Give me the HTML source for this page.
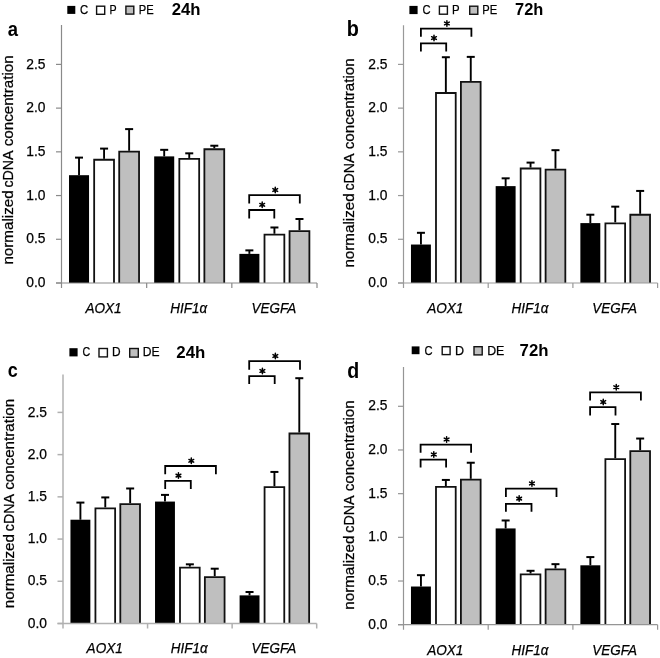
<!DOCTYPE html>
<html><head><meta charset="utf-8"><style>
html,body{margin:0;padding:0;background:#fff;}
svg{display:block;font-family:"Liberation Sans", sans-serif;filter:grayscale(1);}
text{fill:#000;stroke:#000;stroke-width:0.25px;}
text[font-weight=bold]{stroke:none;}
</style></head><body>
<svg width="660" height="658" viewBox="0 0 660 658">
<rect width="660" height="658" fill="#fff"/>
<line x1="79.03" y1="157.61" x2="79.03" y2="175.19" stroke="#000" stroke-width="1.9"/>
<line x1="75.03" y1="157.61" x2="83.03" y2="157.61" stroke="#000" stroke-width="2"/>
<rect x="69.01" y="175.19" width="20.04" height="107.81" fill="#000"/>
<line x1="104.08" y1="148.60" x2="104.08" y2="158.84" stroke="#000" stroke-width="1.9"/>
<line x1="100.08" y1="148.60" x2="108.08" y2="148.60" stroke="#000" stroke-width="2"/>
<rect x="94.16" y="159.74" width="19.84" height="123.26" fill="#ffffff"/>
<path d="M94.16 283.00V159.74H114.00V283.00" fill="none" stroke="#111" stroke-width="1.8"/>
<line x1="129.13" y1="129.11" x2="129.13" y2="150.79" stroke="#000" stroke-width="1.9"/>
<line x1="125.13" y1="129.11" x2="133.13" y2="129.11" stroke="#000" stroke-width="2"/>
<rect x="119.21" y="151.69" width="19.84" height="131.31" fill="#bfbfbf"/>
<path d="M119.21 283.00V151.69H139.05V283.00" fill="none" stroke="#111" stroke-width="1.8"/>
<line x1="164.20" y1="149.83" x2="164.20" y2="156.39" stroke="#000" stroke-width="1.9"/>
<line x1="160.20" y1="149.83" x2="168.20" y2="149.83" stroke="#000" stroke-width="2"/>
<rect x="154.18" y="156.39" width="20.04" height="126.61" fill="#000"/>
<line x1="189.25" y1="153.33" x2="189.25" y2="157.96" stroke="#000" stroke-width="1.9"/>
<line x1="185.25" y1="153.33" x2="193.25" y2="153.33" stroke="#000" stroke-width="2"/>
<rect x="179.33" y="158.86" width="19.84" height="124.14" fill="#ffffff"/>
<path d="M179.33 283.00V158.86H199.17V283.00" fill="none" stroke="#111" stroke-width="1.8"/>
<line x1="214.30" y1="145.72" x2="214.30" y2="148.34" stroke="#000" stroke-width="1.9"/>
<line x1="210.30" y1="145.72" x2="218.30" y2="145.72" stroke="#000" stroke-width="2"/>
<rect x="204.38" y="149.24" width="19.84" height="133.76" fill="#bfbfbf"/>
<path d="M204.38 283.00V149.24H224.22V283.00" fill="none" stroke="#111" stroke-width="1.8"/>
<line x1="249.37" y1="250.38" x2="249.37" y2="253.88" stroke="#000" stroke-width="1.9"/>
<line x1="245.37" y1="250.38" x2="253.37" y2="250.38" stroke="#000" stroke-width="2"/>
<rect x="239.35" y="253.88" width="20.04" height="29.12" fill="#000"/>
<line x1="274.42" y1="227.48" x2="274.42" y2="233.77" stroke="#000" stroke-width="1.9"/>
<line x1="270.42" y1="227.48" x2="278.42" y2="227.48" stroke="#000" stroke-width="2"/>
<rect x="264.50" y="234.67" width="19.84" height="48.33" fill="#ffffff"/>
<path d="M264.50 283.00V234.67H284.34V283.00" fill="none" stroke="#111" stroke-width="1.8"/>
<line x1="299.47" y1="218.99" x2="299.47" y2="230.19" stroke="#000" stroke-width="1.9"/>
<line x1="295.47" y1="218.99" x2="303.47" y2="218.99" stroke="#000" stroke-width="2"/>
<rect x="289.55" y="231.09" width="19.84" height="51.91" fill="#bfbfbf"/>
<path d="M289.55 283.00V231.09H309.39V283.00" fill="none" stroke="#111" stroke-width="1.8"/>
<line x1="61.5" y1="25.0" x2="61.5" y2="288.0" stroke="#8a8a8a" stroke-width="1.2"/>
<line x1="56.0" y1="283.0" x2="317.0" y2="283.0" stroke="#8a8a8a" stroke-width="1.2"/>
<line x1="56.0" y1="283.00" x2="61.5" y2="283.00" stroke="#8a8a8a" stroke-width="1.2"/>
<text x="45.50" y="287.10" text-anchor="end" font-size="14" textLength="19.2" lengthAdjust="spacingAndGlyphs">0.0</text>
<line x1="56.0" y1="239.28" x2="61.5" y2="239.28" stroke="#8a8a8a" stroke-width="1.2"/>
<text x="45.50" y="243.38" text-anchor="end" font-size="14" textLength="19.2" lengthAdjust="spacingAndGlyphs">0.5</text>
<line x1="56.0" y1="195.56" x2="61.5" y2="195.56" stroke="#8a8a8a" stroke-width="1.2"/>
<text x="45.50" y="199.66" text-anchor="end" font-size="14" textLength="19.2" lengthAdjust="spacingAndGlyphs">1.0</text>
<line x1="56.0" y1="151.84" x2="61.5" y2="151.84" stroke="#8a8a8a" stroke-width="1.2"/>
<text x="45.50" y="155.94" text-anchor="end" font-size="14" textLength="19.2" lengthAdjust="spacingAndGlyphs">1.5</text>
<line x1="56.0" y1="108.12" x2="61.5" y2="108.12" stroke="#8a8a8a" stroke-width="1.2"/>
<text x="45.50" y="112.22" text-anchor="end" font-size="14" textLength="19.2" lengthAdjust="spacingAndGlyphs">2.0</text>
<line x1="56.0" y1="64.40" x2="61.5" y2="64.40" stroke="#8a8a8a" stroke-width="1.2"/>
<text x="45.50" y="68.50" text-anchor="end" font-size="14" textLength="19.2" lengthAdjust="spacingAndGlyphs">2.5</text>
<line x1="146.67" y1="283.0" x2="146.67" y2="288.0" stroke="#8a8a8a" stroke-width="1.2"/>
<line x1="231.83" y1="283.0" x2="231.83" y2="288.0" stroke="#8a8a8a" stroke-width="1.2"/>
<line x1="317.00" y1="283.0" x2="317.00" y2="288.0" stroke="#8a8a8a" stroke-width="1.2"/>
<text x="103.48" y="312.80" text-anchor="middle" font-size="14" font-style="italic" textLength="36.2" lengthAdjust="spacingAndGlyphs">AOX1</text>
<text x="188.65" y="312.80" text-anchor="middle" font-size="14" font-style="italic" textLength="36.8" lengthAdjust="spacingAndGlyphs">HIF1α</text>
<text x="273.82" y="312.80" text-anchor="middle" font-size="14" font-style="italic" textLength="44.6" lengthAdjust="spacingAndGlyphs">VEGFA</text>
<path d="M249.20 203.50V195.20H299.80V203.50" stroke="#000" stroke-width="1.8" fill="none"/>
<path d="M249.20 218.40V210.00H274.30V218.40" stroke="#000" stroke-width="1.8" fill="none"/>
<path d="M275.25 187.25L275.25 192.75M272.87 188.62L277.63 191.38M277.63 188.62L272.87 191.38" stroke="#000" stroke-width="1.5" stroke-linecap="round" fill="none"/>
<path d="M262.20 202.05L262.20 207.55M259.82 203.43L264.58 206.18M264.58 203.43L259.82 206.18" stroke="#000" stroke-width="1.5" stroke-linecap="round" fill="none"/>
<text transform="translate(13.30,264.60) rotate(-90)" x="0" y="0" font-size="14.8" textLength="74.20" lengthAdjust="spacingAndGlyphs">normalized</text>
<text transform="translate(13.30,187.60) rotate(-90)" x="0" y="0" font-size="14.8" textLength="37.10" lengthAdjust="spacingAndGlyphs">cDNA</text>
<text transform="translate(13.30,146.20) rotate(-90)" x="0" y="0" font-size="14.8" textLength="90.90" lengthAdjust="spacingAndGlyphs">concentration</text>
<text transform="translate(7.70,35.90) scale(0.88,1)" x="0" y="0" font-size="21" font-weight="bold">a</text>
<line x1="420.94" y1="232.81" x2="420.94" y2="244.53" stroke="#000" stroke-width="1.9"/>
<line x1="416.94" y1="232.81" x2="424.94" y2="232.81" stroke="#000" stroke-width="2"/>
<rect x="410.97" y="244.53" width="19.93" height="38.47" fill="#000"/>
<line x1="445.85" y1="57.23" x2="445.85" y2="92.12" stroke="#000" stroke-width="1.9"/>
<line x1="441.85" y1="57.23" x2="449.85" y2="57.23" stroke="#000" stroke-width="2"/>
<rect x="435.99" y="93.02" width="19.73" height="189.98" fill="#ffffff"/>
<path d="M435.99 283.00V93.02H455.71V283.00" fill="none" stroke="#111" stroke-width="1.8"/>
<line x1="470.76" y1="56.88" x2="470.76" y2="80.93" stroke="#000" stroke-width="1.9"/>
<line x1="466.76" y1="56.88" x2="474.76" y2="56.88" stroke="#000" stroke-width="2"/>
<rect x="460.90" y="81.83" width="19.73" height="201.17" fill="#bfbfbf"/>
<path d="M460.90 283.00V81.83H480.63V283.00" fill="none" stroke="#111" stroke-width="1.8"/>
<line x1="505.64" y1="178.33" x2="505.64" y2="186.12" stroke="#000" stroke-width="1.9"/>
<line x1="501.64" y1="178.33" x2="509.64" y2="178.33" stroke="#000" stroke-width="2"/>
<rect x="495.67" y="186.12" width="19.93" height="96.88" fill="#000"/>
<line x1="530.55" y1="162.60" x2="530.55" y2="167.58" stroke="#000" stroke-width="1.9"/>
<line x1="526.55" y1="162.60" x2="534.55" y2="162.60" stroke="#000" stroke-width="2"/>
<rect x="520.69" y="168.48" width="19.73" height="114.52" fill="#ffffff"/>
<path d="M520.69 283.00V168.48H540.41V283.00" fill="none" stroke="#111" stroke-width="1.8"/>
<line x1="555.46" y1="150.18" x2="555.46" y2="168.72" stroke="#000" stroke-width="1.9"/>
<line x1="551.46" y1="150.18" x2="559.46" y2="150.18" stroke="#000" stroke-width="2"/>
<rect x="545.60" y="169.62" width="19.73" height="113.38" fill="#bfbfbf"/>
<path d="M545.60 283.00V169.62H565.33V283.00" fill="none" stroke="#111" stroke-width="1.8"/>
<line x1="590.34" y1="214.71" x2="590.34" y2="223.10" stroke="#000" stroke-width="1.9"/>
<line x1="586.34" y1="214.71" x2="594.34" y2="214.71" stroke="#000" stroke-width="2"/>
<rect x="580.37" y="223.10" width="19.93" height="59.90" fill="#000"/>
<line x1="615.25" y1="206.66" x2="615.25" y2="222.40" stroke="#000" stroke-width="1.9"/>
<line x1="611.25" y1="206.66" x2="619.25" y2="206.66" stroke="#000" stroke-width="2"/>
<rect x="605.39" y="223.30" width="19.73" height="59.70" fill="#ffffff"/>
<path d="M605.39 283.00V223.30H625.11V283.00" fill="none" stroke="#111" stroke-width="1.8"/>
<line x1="640.16" y1="190.93" x2="640.16" y2="213.83" stroke="#000" stroke-width="1.9"/>
<line x1="636.16" y1="190.93" x2="644.16" y2="190.93" stroke="#000" stroke-width="2"/>
<rect x="630.30" y="214.73" width="19.73" height="68.27" fill="#bfbfbf"/>
<path d="M630.30 283.00V214.73H650.03V283.00" fill="none" stroke="#111" stroke-width="1.8"/>
<line x1="403.5" y1="25.3" x2="403.5" y2="288.0" stroke="#999999" stroke-width="1.2"/>
<line x1="398.0" y1="283.0" x2="657.6" y2="283.0" stroke="#999999" stroke-width="1.2"/>
<line x1="398.0" y1="283.00" x2="403.5" y2="283.00" stroke="#999999" stroke-width="1.2"/>
<text x="387.50" y="287.10" text-anchor="end" font-size="14" textLength="19.2" lengthAdjust="spacingAndGlyphs">0.0</text>
<line x1="398.0" y1="239.28" x2="403.5" y2="239.28" stroke="#999999" stroke-width="1.2"/>
<text x="387.50" y="243.38" text-anchor="end" font-size="14" textLength="19.2" lengthAdjust="spacingAndGlyphs">0.5</text>
<line x1="398.0" y1="195.56" x2="403.5" y2="195.56" stroke="#999999" stroke-width="1.2"/>
<text x="387.50" y="199.66" text-anchor="end" font-size="14" textLength="19.2" lengthAdjust="spacingAndGlyphs">1.0</text>
<line x1="398.0" y1="151.84" x2="403.5" y2="151.84" stroke="#999999" stroke-width="1.2"/>
<text x="387.50" y="155.94" text-anchor="end" font-size="14" textLength="19.2" lengthAdjust="spacingAndGlyphs">1.5</text>
<line x1="398.0" y1="108.12" x2="403.5" y2="108.12" stroke="#999999" stroke-width="1.2"/>
<text x="387.50" y="112.22" text-anchor="end" font-size="14" textLength="19.2" lengthAdjust="spacingAndGlyphs">2.0</text>
<line x1="398.0" y1="64.40" x2="403.5" y2="64.40" stroke="#999999" stroke-width="1.2"/>
<text x="387.50" y="68.50" text-anchor="end" font-size="14" textLength="19.2" lengthAdjust="spacingAndGlyphs">2.5</text>
<line x1="488.20" y1="283.0" x2="488.20" y2="288.0" stroke="#999999" stroke-width="1.2"/>
<line x1="572.90" y1="283.0" x2="572.90" y2="288.0" stroke="#999999" stroke-width="1.2"/>
<line x1="657.60" y1="283.0" x2="657.60" y2="288.0" stroke="#999999" stroke-width="1.2"/>
<text x="445.25" y="312.80" text-anchor="middle" font-size="14" font-style="italic" textLength="36.2" lengthAdjust="spacingAndGlyphs">AOX1</text>
<text x="529.95" y="312.80" text-anchor="middle" font-size="14" font-style="italic" textLength="36.8" lengthAdjust="spacingAndGlyphs">HIF1α</text>
<text x="614.65" y="312.80" text-anchor="middle" font-size="14" font-style="italic" textLength="44.6" lengthAdjust="spacingAndGlyphs">VEGFA</text>
<path d="M420.90 36.70V28.60H471.40V36.70" stroke="#000" stroke-width="1.8" fill="none"/>
<path d="M420.90 51.50V43.30H446.20V51.50" stroke="#000" stroke-width="1.8" fill="none"/>
<path d="M446.90 20.65L446.90 26.15M444.52 22.03L449.28 24.78M449.28 22.03L444.52 24.78" stroke="#000" stroke-width="1.5" stroke-linecap="round" fill="none"/>
<path d="M434.00 35.35L434.00 40.85M431.62 36.72L436.38 39.47M436.38 36.72L431.62 39.47" stroke="#000" stroke-width="1.5" stroke-linecap="round" fill="none"/>
<text transform="translate(354.10,267.60) rotate(-90)" x="0" y="0" font-size="14.8" textLength="74.20" lengthAdjust="spacingAndGlyphs">normalized</text>
<text transform="translate(354.10,190.60) rotate(-90)" x="0" y="0" font-size="14.8" textLength="37.10" lengthAdjust="spacingAndGlyphs">cDNA</text>
<text transform="translate(354.10,149.20) rotate(-90)" x="0" y="0" font-size="14.8" textLength="90.90" lengthAdjust="spacingAndGlyphs">concentration</text>
<text transform="translate(346.80,35.70) scale(0.9,1)" x="0" y="0" font-size="22" font-weight="bold">b</text>
<line x1="80.41" y1="502.58" x2="80.41" y2="519.72" stroke="#000" stroke-width="1.9"/>
<line x1="76.41" y1="502.58" x2="84.41" y2="502.58" stroke="#000" stroke-width="2"/>
<rect x="70.46" y="519.72" width="19.90" height="103.78" fill="#000"/>
<line x1="105.28" y1="497.43" x2="105.28" y2="507.39" stroke="#000" stroke-width="1.9"/>
<line x1="101.28" y1="497.43" x2="109.28" y2="497.43" stroke="#000" stroke-width="2"/>
<rect x="95.43" y="508.29" width="19.70" height="115.21" fill="#ffffff"/>
<path d="M95.43 623.50V508.29H115.13V623.50" fill="none" stroke="#111" stroke-width="1.8"/>
<line x1="130.16" y1="488.48" x2="130.16" y2="503.26" stroke="#000" stroke-width="1.9"/>
<line x1="126.16" y1="488.48" x2="134.16" y2="488.48" stroke="#000" stroke-width="2"/>
<rect x="120.31" y="504.16" width="19.70" height="119.34" fill="#bfbfbf"/>
<path d="M120.31 623.50V504.16H140.00V623.50" fill="none" stroke="#111" stroke-width="1.8"/>
<line x1="164.98" y1="494.90" x2="164.98" y2="501.57" stroke="#000" stroke-width="1.9"/>
<line x1="160.98" y1="494.90" x2="168.98" y2="494.90" stroke="#000" stroke-width="2"/>
<rect x="155.03" y="501.57" width="19.90" height="121.93" fill="#000"/>
<line x1="189.85" y1="564.31" x2="189.85" y2="566.67" stroke="#000" stroke-width="1.9"/>
<line x1="185.85" y1="564.31" x2="193.85" y2="564.31" stroke="#000" stroke-width="2"/>
<rect x="180.00" y="567.57" width="19.70" height="55.93" fill="#ffffff"/>
<path d="M180.00 623.50V567.57H199.70V623.50" fill="none" stroke="#111" stroke-width="1.8"/>
<line x1="214.72" y1="568.70" x2="214.72" y2="576.21" stroke="#000" stroke-width="1.9"/>
<line x1="210.72" y1="568.70" x2="218.72" y2="568.70" stroke="#000" stroke-width="2"/>
<rect x="204.87" y="577.11" width="19.70" height="46.39" fill="#bfbfbf"/>
<path d="M204.87 623.50V577.11H224.57V623.50" fill="none" stroke="#111" stroke-width="1.8"/>
<line x1="249.54" y1="592.00" x2="249.54" y2="595.38" stroke="#000" stroke-width="1.9"/>
<line x1="245.54" y1="592.00" x2="253.54" y2="592.00" stroke="#000" stroke-width="2"/>
<rect x="239.60" y="595.38" width="19.90" height="28.12" fill="#000"/>
<line x1="274.42" y1="471.93" x2="274.42" y2="486.20" stroke="#000" stroke-width="1.9"/>
<line x1="270.42" y1="471.93" x2="278.42" y2="471.93" stroke="#000" stroke-width="2"/>
<rect x="264.57" y="487.10" width="19.70" height="136.40" fill="#ffffff"/>
<path d="M264.57 623.50V487.10H284.27V623.50" fill="none" stroke="#111" stroke-width="1.8"/>
<line x1="299.29" y1="378.20" x2="299.29" y2="432.58" stroke="#000" stroke-width="1.9"/>
<line x1="295.29" y1="378.20" x2="303.29" y2="378.20" stroke="#000" stroke-width="2"/>
<rect x="289.44" y="433.48" width="19.70" height="190.02" fill="#bfbfbf"/>
<path d="M289.44 623.50V433.48H309.14V623.50" fill="none" stroke="#111" stroke-width="1.8"/>
<line x1="63.0" y1="374.6" x2="63.0" y2="628.5" stroke="#b0b0b0" stroke-width="1.5"/>
<line x1="57.5" y1="623.5" x2="316.7" y2="623.5" stroke="#b0b0b0" stroke-width="1.5"/>
<line x1="57.5" y1="623.50" x2="63.0" y2="623.50" stroke="#b0b0b0" stroke-width="1.5"/>
<text x="47.00" y="627.60" text-anchor="end" font-size="14" textLength="19.2" lengthAdjust="spacingAndGlyphs">0.0</text>
<line x1="57.5" y1="581.28" x2="63.0" y2="581.28" stroke="#b0b0b0" stroke-width="1.5"/>
<text x="47.00" y="585.38" text-anchor="end" font-size="14" textLength="19.2" lengthAdjust="spacingAndGlyphs">0.5</text>
<line x1="57.5" y1="539.06" x2="63.0" y2="539.06" stroke="#b0b0b0" stroke-width="1.5"/>
<text x="47.00" y="543.16" text-anchor="end" font-size="14" textLength="19.2" lengthAdjust="spacingAndGlyphs">1.0</text>
<line x1="57.5" y1="496.84" x2="63.0" y2="496.84" stroke="#b0b0b0" stroke-width="1.5"/>
<text x="47.00" y="500.94" text-anchor="end" font-size="14" textLength="19.2" lengthAdjust="spacingAndGlyphs">1.5</text>
<line x1="57.5" y1="454.62" x2="63.0" y2="454.62" stroke="#b0b0b0" stroke-width="1.5"/>
<text x="47.00" y="458.72" text-anchor="end" font-size="14" textLength="19.2" lengthAdjust="spacingAndGlyphs">2.0</text>
<line x1="57.5" y1="412.40" x2="63.0" y2="412.40" stroke="#b0b0b0" stroke-width="1.5"/>
<text x="47.00" y="416.50" text-anchor="end" font-size="14" textLength="19.2" lengthAdjust="spacingAndGlyphs">2.5</text>
<line x1="147.57" y1="623.5" x2="147.57" y2="628.5" stroke="#b0b0b0" stroke-width="1.5"/>
<line x1="232.13" y1="623.5" x2="232.13" y2="628.5" stroke="#b0b0b0" stroke-width="1.5"/>
<line x1="316.70" y1="623.5" x2="316.70" y2="628.5" stroke="#b0b0b0" stroke-width="1.5"/>
<text x="104.68" y="653.30" text-anchor="middle" font-size="14" font-style="italic" textLength="36.2" lengthAdjust="spacingAndGlyphs">AOX1</text>
<text x="189.25" y="653.30" text-anchor="middle" font-size="14" font-style="italic" textLength="36.8" lengthAdjust="spacingAndGlyphs">HIF1α</text>
<text x="273.82" y="653.30" text-anchor="middle" font-size="14" font-style="italic" textLength="44.6" lengthAdjust="spacingAndGlyphs">VEGFA</text>
<path d="M165.20 474.30V466.00H215.90V474.30" stroke="#000" stroke-width="1.8" fill="none"/>
<path d="M165.20 489.00V480.80H190.80V489.00" stroke="#000" stroke-width="1.8" fill="none"/>
<path d="M191.30 458.05L191.30 463.55M188.92 459.43L193.68 462.18M193.68 459.43L188.92 462.18" stroke="#000" stroke-width="1.5" stroke-linecap="round" fill="none"/>
<path d="M178.45 472.85L178.45 478.35M176.07 474.23L180.83 476.98M180.83 474.23L176.07 476.98" stroke="#000" stroke-width="1.5" stroke-linecap="round" fill="none"/>
<path d="M249.20 369.70V361.20H300.00V369.70" stroke="#000" stroke-width="1.8" fill="none"/>
<path d="M249.20 384.00V376.10H274.70V384.00" stroke="#000" stroke-width="1.8" fill="none"/>
<path d="M275.35 353.25L275.35 358.75M272.97 354.62L277.73 357.38M277.73 354.62L272.97 357.38" stroke="#000" stroke-width="1.5" stroke-linecap="round" fill="none"/>
<path d="M262.40 368.15L262.40 373.65M260.02 369.53L264.78 372.28M264.78 369.53L260.02 372.28" stroke="#000" stroke-width="1.5" stroke-linecap="round" fill="none"/>
<text transform="translate(13.70,608.20) rotate(-90)" x="0" y="0" font-size="14.8" textLength="74.20" lengthAdjust="spacingAndGlyphs">normalized</text>
<text transform="translate(13.70,531.20) rotate(-90)" x="0" y="0" font-size="14.8" textLength="37.10" lengthAdjust="spacingAndGlyphs">cDNA</text>
<text transform="translate(13.70,489.80) rotate(-90)" x="0" y="0" font-size="14.8" textLength="90.90" lengthAdjust="spacingAndGlyphs">concentration</text>
<text transform="translate(7.70,376.90) scale(0.9,1)" x="0" y="0" font-size="20" font-weight="bold">c</text>
<line x1="420.94" y1="575.17" x2="420.94" y2="586.52" stroke="#000" stroke-width="1.9"/>
<line x1="416.94" y1="575.17" x2="424.94" y2="575.17" stroke="#000" stroke-width="2"/>
<rect x="410.97" y="586.52" width="19.93" height="38.18" fill="#000"/>
<line x1="445.85" y1="479.94" x2="445.85" y2="486.06" stroke="#000" stroke-width="1.9"/>
<line x1="441.85" y1="479.94" x2="449.85" y2="479.94" stroke="#000" stroke-width="2"/>
<rect x="435.99" y="486.96" width="19.73" height="137.74" fill="#ffffff"/>
<path d="M435.99 624.70V486.96H455.71V624.70" fill="none" stroke="#111" stroke-width="1.8"/>
<line x1="470.76" y1="462.73" x2="470.76" y2="478.81" stroke="#000" stroke-width="1.9"/>
<line x1="466.76" y1="462.73" x2="474.76" y2="462.73" stroke="#000" stroke-width="2"/>
<rect x="460.90" y="479.71" width="19.73" height="144.99" fill="#bfbfbf"/>
<path d="M460.90 624.70V479.71H480.63V624.70" fill="none" stroke="#111" stroke-width="1.8"/>
<line x1="505.64" y1="520.48" x2="505.64" y2="528.43" stroke="#000" stroke-width="1.9"/>
<line x1="501.64" y1="520.48" x2="509.64" y2="520.48" stroke="#000" stroke-width="2"/>
<rect x="495.67" y="528.43" width="19.93" height="96.27" fill="#000"/>
<line x1="530.55" y1="570.80" x2="530.55" y2="573.51" stroke="#000" stroke-width="1.9"/>
<line x1="526.55" y1="570.80" x2="534.55" y2="570.80" stroke="#000" stroke-width="2"/>
<rect x="520.69" y="574.41" width="19.73" height="50.29" fill="#ffffff"/>
<path d="M520.69 624.70V574.41H540.41V624.70" fill="none" stroke="#111" stroke-width="1.8"/>
<line x1="555.46" y1="564.16" x2="555.46" y2="568.53" stroke="#000" stroke-width="1.9"/>
<line x1="551.46" y1="564.16" x2="559.46" y2="564.16" stroke="#000" stroke-width="2"/>
<rect x="545.60" y="569.43" width="19.73" height="55.27" fill="#bfbfbf"/>
<path d="M545.60 624.70V569.43H565.33V624.70" fill="none" stroke="#111" stroke-width="1.8"/>
<line x1="590.34" y1="557.08" x2="590.34" y2="565.30" stroke="#000" stroke-width="1.9"/>
<line x1="586.34" y1="557.08" x2="594.34" y2="557.08" stroke="#000" stroke-width="2"/>
<rect x="580.37" y="565.30" width="19.93" height="59.40" fill="#000"/>
<line x1="615.25" y1="424.03" x2="615.25" y2="458.28" stroke="#000" stroke-width="1.9"/>
<line x1="611.25" y1="424.03" x2="619.25" y2="424.03" stroke="#000" stroke-width="2"/>
<rect x="605.39" y="459.18" width="19.73" height="165.52" fill="#ffffff"/>
<path d="M605.39 624.70V459.18H625.11V624.70" fill="none" stroke="#111" stroke-width="1.8"/>
<line x1="640.16" y1="438.54" x2="640.16" y2="450.24" stroke="#000" stroke-width="1.9"/>
<line x1="636.16" y1="438.54" x2="644.16" y2="438.54" stroke="#000" stroke-width="2"/>
<rect x="630.30" y="451.14" width="19.73" height="173.56" fill="#bfbfbf"/>
<path d="M630.30 624.70V451.14H650.03V624.70" fill="none" stroke="#111" stroke-width="1.8"/>
<line x1="403.5" y1="367.1" x2="403.5" y2="629.7" stroke="#959595" stroke-width="1.2"/>
<line x1="398.0" y1="624.7" x2="657.6" y2="624.7" stroke="#959595" stroke-width="1.2"/>
<line x1="398.0" y1="624.70" x2="403.5" y2="624.70" stroke="#959595" stroke-width="1.2"/>
<text x="387.50" y="628.80" text-anchor="end" font-size="14" textLength="19.2" lengthAdjust="spacingAndGlyphs">0.0</text>
<line x1="398.0" y1="581.02" x2="403.5" y2="581.02" stroke="#959595" stroke-width="1.2"/>
<text x="387.50" y="585.12" text-anchor="end" font-size="14" textLength="19.2" lengthAdjust="spacingAndGlyphs">0.5</text>
<line x1="398.0" y1="537.34" x2="403.5" y2="537.34" stroke="#959595" stroke-width="1.2"/>
<text x="387.50" y="541.44" text-anchor="end" font-size="14" textLength="19.2" lengthAdjust="spacingAndGlyphs">1.0</text>
<line x1="398.0" y1="493.66" x2="403.5" y2="493.66" stroke="#959595" stroke-width="1.2"/>
<text x="387.50" y="497.76" text-anchor="end" font-size="14" textLength="19.2" lengthAdjust="spacingAndGlyphs">1.5</text>
<line x1="398.0" y1="449.98" x2="403.5" y2="449.98" stroke="#959595" stroke-width="1.2"/>
<text x="387.50" y="454.08" text-anchor="end" font-size="14" textLength="19.2" lengthAdjust="spacingAndGlyphs">2.0</text>
<line x1="398.0" y1="406.30" x2="403.5" y2="406.30" stroke="#959595" stroke-width="1.2"/>
<text x="387.50" y="410.40" text-anchor="end" font-size="14" textLength="19.2" lengthAdjust="spacingAndGlyphs">2.5</text>
<line x1="488.20" y1="624.7" x2="488.20" y2="629.7" stroke="#959595" stroke-width="1.2"/>
<line x1="572.90" y1="624.7" x2="572.90" y2="629.7" stroke="#959595" stroke-width="1.2"/>
<line x1="657.60" y1="624.7" x2="657.60" y2="629.7" stroke="#959595" stroke-width="1.2"/>
<text x="445.25" y="654.50" text-anchor="middle" font-size="14" font-style="italic" textLength="36.2" lengthAdjust="spacingAndGlyphs">AOX1</text>
<text x="529.95" y="654.50" text-anchor="middle" font-size="14" font-style="italic" textLength="36.8" lengthAdjust="spacingAndGlyphs">HIF1α</text>
<text x="614.65" y="654.50" text-anchor="middle" font-size="14" font-style="italic" textLength="44.6" lengthAdjust="spacingAndGlyphs">VEGFA</text>
<path d="M420.60 452.80V444.60H471.10V452.80" stroke="#000" stroke-width="1.8" fill="none"/>
<path d="M420.60 467.60V459.70H446.10V467.60" stroke="#000" stroke-width="1.8" fill="none"/>
<path d="M446.60 436.65L446.60 442.15M444.22 438.03L448.98 440.78M448.98 438.03L444.22 440.78" stroke="#000" stroke-width="1.5" stroke-linecap="round" fill="none"/>
<path d="M433.80 451.75L433.80 457.25M431.42 453.12L436.18 455.88M436.18 453.12L431.42 455.88" stroke="#000" stroke-width="1.5" stroke-linecap="round" fill="none"/>
<path d="M505.90 496.90V488.70H556.50V496.90" stroke="#000" stroke-width="1.8" fill="none"/>
<path d="M505.90 511.70V503.80H531.50V511.70" stroke="#000" stroke-width="1.8" fill="none"/>
<path d="M531.95 480.75L531.95 486.25M529.57 482.12L534.33 484.88M534.33 482.12L529.57 484.88" stroke="#000" stroke-width="1.5" stroke-linecap="round" fill="none"/>
<path d="M519.15 495.85L519.15 501.35M516.77 497.23L521.53 499.98M521.53 497.23L516.77 499.98" stroke="#000" stroke-width="1.5" stroke-linecap="round" fill="none"/>
<path d="M590.10 400.60V392.40H640.90V400.60" stroke="#000" stroke-width="1.8" fill="none"/>
<path d="M590.10 415.40V407.20H615.50V415.40" stroke="#000" stroke-width="1.8" fill="none"/>
<path d="M616.25 384.45L616.25 389.95M613.87 385.82L618.63 388.57M618.63 385.82L613.87 388.57" stroke="#000" stroke-width="1.5" stroke-linecap="round" fill="none"/>
<path d="M603.25 399.25L603.25 404.75M600.87 400.62L605.63 403.38M605.63 400.62L600.87 403.38" stroke="#000" stroke-width="1.5" stroke-linecap="round" fill="none"/>
<text transform="translate(354.00,609.70) rotate(-90)" x="0" y="0" font-size="14.8" textLength="74.20" lengthAdjust="spacingAndGlyphs">normalized</text>
<text transform="translate(354.00,532.70) rotate(-90)" x="0" y="0" font-size="14.8" textLength="37.10" lengthAdjust="spacingAndGlyphs">cDNA</text>
<text transform="translate(354.00,491.30) rotate(-90)" x="0" y="0" font-size="14.8" textLength="90.90" lengthAdjust="spacingAndGlyphs">concentration</text>
<text transform="translate(347.30,377.80) scale(0.89,1)" x="0" y="0" font-size="22" font-weight="bold">d</text>
<rect x="67.30" y="5.90" width="8.00" height="8.00" fill="#000"/>
<rect x="96.60" y="6.20" width="8.10" height="8.10" fill="#fff" stroke="#111" stroke-width="1.4"/>
<rect x="125.90" y="6.20" width="7.90" height="7.90" fill="#bfbfbf" stroke="#111" stroke-width="1.4"/>
<text x="79.98" y="14.40" font-size="13" textLength="8.16" lengthAdjust="spacingAndGlyphs">C</text>
<text x="109.60" y="14.40" font-size="13" textLength="7.12" lengthAdjust="spacingAndGlyphs">P</text>
<text x="138.75" y="14.40" font-size="13" textLength="14.89" lengthAdjust="spacingAndGlyphs">PE</text>
<text x="171.70" y="14.80" font-size="16" font-weight="bold" textLength="28.81" lengthAdjust="spacingAndGlyphs">24h</text>
<rect x="409.40" y="5.90" width="8.20" height="8.20" fill="#000"/>
<rect x="439.40" y="6.20" width="8.00" height="8.00" fill="#fff" stroke="#111" stroke-width="1.4"/>
<rect x="469.70" y="6.20" width="8.10" height="8.10" fill="#bfbfbf" stroke="#111" stroke-width="1.4"/>
<text x="422.49" y="14.40" font-size="13" textLength="8.05" lengthAdjust="spacingAndGlyphs">C</text>
<text x="452.04" y="14.40" font-size="13" textLength="7.62" lengthAdjust="spacingAndGlyphs">P</text>
<text x="482.35" y="14.40" font-size="13" textLength="14.89" lengthAdjust="spacingAndGlyphs">PE</text>
<text x="515.00" y="14.80" font-size="16" font-weight="bold" textLength="28.29" lengthAdjust="spacingAndGlyphs">72h</text>
<rect x="69.40" y="348.20" width="8.20" height="8.20" fill="#000"/>
<rect x="99.00" y="348.50" width="8.40" height="8.40" fill="#fff" stroke="#111" stroke-width="1.4"/>
<rect x="129.70" y="348.50" width="8.60" height="8.60" fill="#bfbfbf" stroke="#111" stroke-width="1.4"/>
<text x="82.51" y="356.40" font-size="13" textLength="7.70" lengthAdjust="spacingAndGlyphs">C</text>
<text x="111.91" y="356.40" font-size="13" textLength="8.59" lengthAdjust="spacingAndGlyphs">D</text>
<text x="142.83" y="356.40" font-size="13" textLength="16.81" lengthAdjust="spacingAndGlyphs">DE</text>
<text x="176.30" y="357.60" font-size="16" font-weight="bold" textLength="29.01" lengthAdjust="spacingAndGlyphs">24h</text>
<rect x="411.70" y="346.40" width="7.80" height="7.80" fill="#000"/>
<rect x="442.20" y="346.70" width="7.90" height="7.90" fill="#fff" stroke="#111" stroke-width="1.4"/>
<rect x="474.00" y="346.70" width="8.20" height="8.20" fill="#bfbfbf" stroke="#111" stroke-width="1.4"/>
<text x="424.49" y="355.00" font-size="13" textLength="8.05" lengthAdjust="spacingAndGlyphs">C</text>
<text x="454.95" y="355.00" font-size="13" textLength="9.06" lengthAdjust="spacingAndGlyphs">D</text>
<text x="487.21" y="355.00" font-size="13" textLength="17.14" lengthAdjust="spacingAndGlyphs">DE</text>
<text x="519.60" y="356.00" font-size="16" font-weight="bold" textLength="28.91" lengthAdjust="spacingAndGlyphs">72h</text>
</svg>
</body></html>
